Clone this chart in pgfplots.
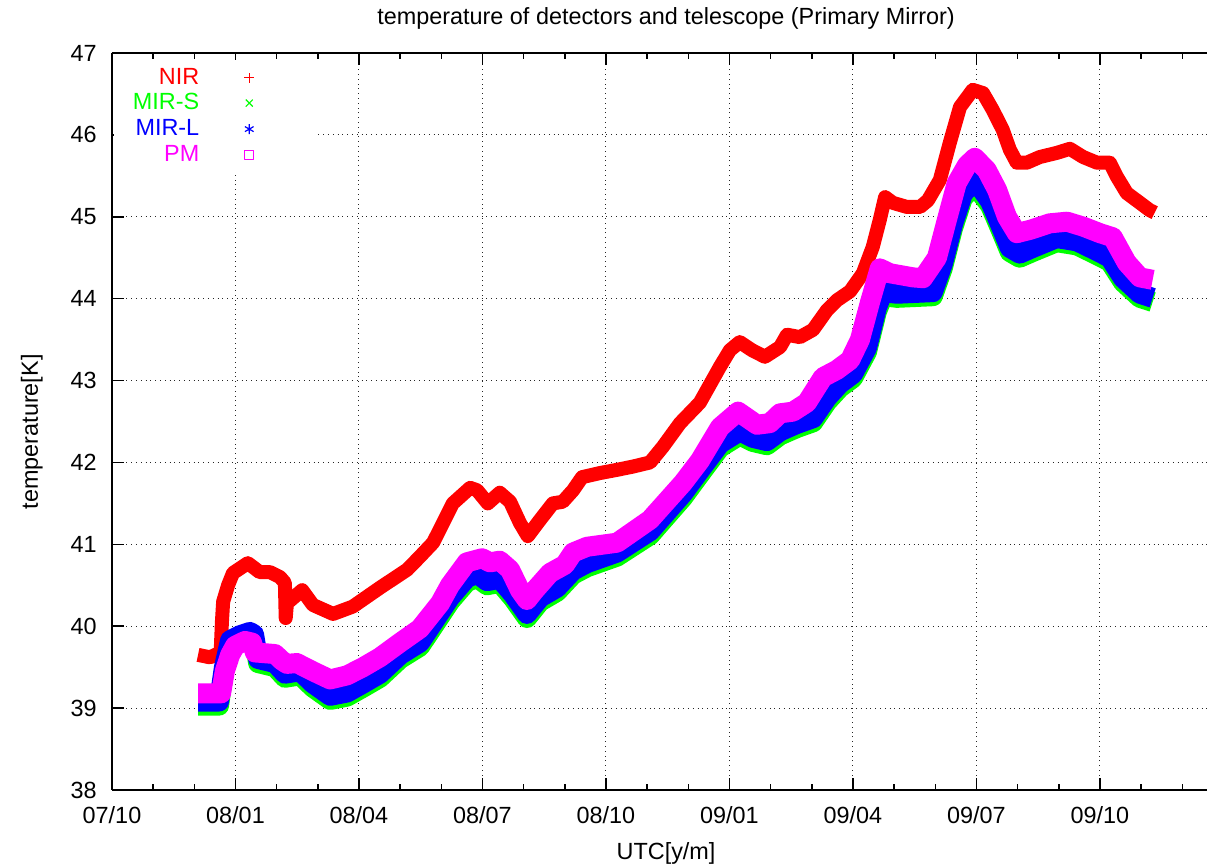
\documentclass[border=0pt]{standalone}
\usepackage{fontspec}
\setmainfont{Liberation Sans}
\usepackage{pgfplots}
\pgfplotsset{compat=1.18}
\usepackage{pgfplotstable}
\definecolor{mag}{rgb}{1,0,1}
\definecolor{grn}{rgb}{0,1,0}
\definecolor{blu}{rgb}{0,0,1}
\definecolor{rd}{rgb}{1,0,0}

\pgfplotstableread{
m T
2.09 39.65
2.38 39.62
2.64 39.68
2.67 40.05
2.70 40.30
2.82 40.50
2.94 40.65
3.30 40.77
3.59 40.66
3.84 40.66
4.08 40.60
4.20 40.53
4.22 40.10
4.25 40.28
4.62 40.44
4.88 40.26
5.37 40.15
5.85 40.24
6.51 40.47
7.17 40.69
7.48 40.85
7.80 41.02
8.04 41.26
8.28 41.50
8.70 41.69
8.87 41.66
9.13 41.50
9.42 41.63
9.67 41.52
9.91 41.26
10.10 41.10
10.40 41.30
10.71 41.50
10.95 41.52
11.20 41.66
11.42 41.82
11.85 41.87
12.27 41.91
12.66 41.95
13.07 42.00
13.38 42.19
13.80 42.48
14.28 42.73
14.77 43.17
15.01 43.37
15.25 43.47
15.55 43.37
15.86 43.29
16.23 43.41
16.40 43.56
16.71 43.53
17.03 43.62
17.37 43.86
17.61 43.98
17.93 44.09
18.24 44.31
18.48 44.63
18.65 44.96
18.78 45.24
18.97 45.17
19.31 45.12
19.63 45.12
19.82 45.20
20.11 45.45
20.35 45.90
20.60 46.34
20.91 46.55
21.16 46.51
21.40 46.30
21.64 46.06
21.81 45.82
21.98 45.66
22.22 45.66
22.54 45.73
22.95 45.78
23.27 45.83
23.59 45.73
23.93 45.66
24.24 45.66
24.41 45.49
24.65 45.29
24.97 45.17
25.21 45.08
25.33 45.05
}\nir

\pgfplotstableread{
m T
2.09 39.03
2.60 39.03
2.72 39.45
2.87 39.78
3.11 39.84
3.35 39.88
3.45 39.85
3.55 39.55
3.96 39.50
4.20 39.37
4.57 39.40
4.88 39.25
5.30 39.10
5.71 39.14
6.10 39.25
6.51 39.37
7.00 39.60
7.48 39.75
7.80 39.99
8.21 40.30
8.62 40.54
8.87 40.59
9.11 40.50
9.42 40.53
9.74 40.34
10.08 40.10
10.40 40.30
10.81 40.42
11.20 40.63
11.54 40.72
12.27 40.85
13.07 41.11
13.87 41.57
14.28 41.85
14.77 42.18
15.25 42.33
15.57 42.25
15.91 42.21
16.23 42.33
16.64 42.42
17.03 42.49
17.37 42.74
17.68 42.91
18.00 43.03
18.34 43.35
18.58 43.84
18.73 44.03
19.07 44.01
19.94 44.03
20.18 44.37
20.43 44.86
20.67 45.23
20.96 45.38
21.33 45.14
21.57 44.86
21.81 44.57
22.05 44.50
22.37 44.57
22.95 44.69
23.44 44.65
23.93 44.53
24.24 44.45
24.56 44.20
24.97 44.01
25.28 43.96
}\mirs

\pgfplotstableread{
m T
2.09 39.08
2.60 39.08
2.72 39.50
2.87 39.83
3.11 39.89
3.35 39.93
3.45 39.90
3.55 39.60
3.96 39.55
4.20 39.42
4.57 39.45
4.88 39.30
5.30 39.15
5.71 39.19
6.10 39.30
6.51 39.42
7.00 39.65
7.48 39.80
7.80 40.04
8.21 40.35
8.62 40.59
8.87 40.64
9.11 40.55
9.42 40.58
9.74 40.39
10.08 40.15
10.40 40.35
10.81 40.47
11.20 40.68
11.54 40.77
12.27 40.90
13.07 41.16
13.87 41.62
14.28 41.90
14.77 42.23
15.25 42.38
15.57 42.30
15.91 42.26
16.23 42.38
16.64 42.47
17.03 42.54
17.37 42.79
17.68 42.96
18.00 43.08
18.34 43.40
18.58 43.89
18.73 44.08
19.07 44.06
19.94 44.08
20.18 44.42
20.43 44.91
20.67 45.28
20.96 45.45
21.33 45.19
21.57 44.91
21.81 44.62
22.05 44.55
22.37 44.62
22.95 44.74
23.44 44.70
23.93 44.58
24.24 44.50
24.56 44.25
24.97 44.06
25.28 44.01
}\mirl

\pgfplotstableread{
m T
2.09 39.18
2.65 39.18
2.74 39.45
2.87 39.65
2.99 39.76
3.23 39.82
3.40 39.80
3.47 39.68
3.96 39.66
4.13 39.58
4.25 39.54
4.49 39.55
4.88 39.45
5.30 39.35
5.71 39.40
6.10 39.50
6.51 39.62
7.00 39.80
7.48 39.97
7.97 40.28
8.21 40.50
8.62 40.78
8.99 40.83
9.18 40.78
9.42 40.80
9.67 40.69
9.91 40.44
10.08 40.32
10.27 40.44
10.64 40.65
11.00 40.75
11.20 40.90
11.54 40.97
12.27 41.02
13.07 41.30
13.87 41.75
14.28 42.02
14.77 42.43
15.21 42.62
15.67 42.46
15.98 42.48
16.23 42.60
16.54 42.62
16.88 42.73
17.27 43.04
17.61 43.13
17.93 43.25
18.17 43.50
18.41 43.95
18.65 44.37
18.90 44.31
19.46 44.26
19.70 44.25
20.04 44.50
20.28 44.96
20.52 45.41
20.77 45.63
20.96 45.72
21.25 45.57
21.50 45.33
21.74 45.00
21.98 44.80
22.30 44.84
22.78 44.92
23.20 44.94
23.59 44.88
24.00 44.80
24.31 44.75
24.65 44.44
24.97 44.26
25.28 44.23
}\pm

\begin{document}
\begin{tikzpicture}[font=\fontsize{11.7}{14}\selectfont]
\begin{axis}[
  scale only axis, width=547.5pt, height=368.5pt,
  xmin=0, xmax=26.6, ymin=38, ymax=47,
  axis x line=box, axis y line=left, y axis line style={-},
  axis line style={line width=0.8pt},
  tick align=inside, ytick pos=left,
  major tick length=6pt, minor tick length=3pt,
  every tick/.style={black, line width=0.8pt},
  xtick={0,3,6,9,12,15,18,21,24},
  xticklabels={07/10,08/01,08/04,08/07,08/10,09/01,09/04,09/07,09/10},
  minor xtick={1,2,4,5,7,8,10,11,13,14,16,17,19,20,22,23,25,26},
  ytick={38,39,...,47},
  /pgf/number format/assume math mode=true,
  xticklabel style={anchor=base, inner sep=0pt, yshift=-17pt},
  yticklabel style={anchor=east, inner sep=0pt, xshift=-7.5pt},
  grid=major,
  grid style={dotted, black!85, line width=0.5pt},
  title={temperature of detectors and telescope (Primary Mirror)},
  title style={at={([yshift=8pt]axis description cs:0.506,1)}, anchor=base, inner sep=0pt},
  xlabel={UTC[y/m]},
  xlabel style={at={([yshift=-35pt]axis description cs:0.506,0)}, anchor=base, inner sep=0pt},
  ylabel={temperature[K]},
  ylabel style={at={([xshift=-37pt]axis description cs:0,0.486)}, anchor=base, inner sep=0pt},
  legend style={draw=none, fill=white, at={(0.0018,0.9905)}, anchor=north west,
    inner xsep=9.5pt, inner ysep=4pt, outer sep=0pt, row sep=3pt, column sep=0pt,
    nodes={inner sep=0pt}},
  legend cell align=right,
  legend plot pos=right,
  line join=round,
]
\addplot[color=rd, line width=7pt,
  legend image code/.code={\path (0pt,0pt) (39pt,0pt); \draw[color=red, line width=0.75pt] (17.5pt,0pt) -- (22.5pt,0pt) (20pt,-2.5pt) -- (20pt,2.5pt);}]
  table[x=m, y=T] {\nir};
\addlegendentry{\textcolor{rd}{NIR}}
\addplot[color=grn, line width=10pt,
  legend image code/.code={\path (0pt,0pt) (39pt,0pt); \draw[draw=grn, line width=0.6pt, mark=x, mark size=2.5pt, mark options={draw=grn, solid}] plot coordinates {(20pt,0pt)};}]
  table[x=m, y=T] {\mirs};
\addlegendentry{\textcolor{grn}{MIR-S}}
\addplot[color=blu, line width=10pt,
  legend image code/.code={\path (0pt,0pt) (39pt,0pt); \draw[draw=blu, line width=0.6pt, mark=asterisk, mark size=2.5pt, mark options={draw=blu, solid}] plot coordinates {(20pt,0pt)};}]
  table[x=m, y=T] {\mirl};
\addlegendentry{\textcolor{blu}{MIR-L}}
\addplot[color=mag, line width=10pt,
  legend image code/.code={\path (0pt,0pt) (39pt,0pt); \draw[draw=mag, line width=0.6pt, mark=square, mark size=2.2pt, mark options={draw=mag, solid}] plot coordinates {(20pt,0pt)};}]
  table[x=m, y=T] {\pm};
\addlegendentry{\textcolor{mag}{PM}}
\end{axis}
\pgfresetboundingbox
\path[use as bounding box] ([shift={(-56pt,-38pt)}]current axis.south west) rectangle ([shift={(0pt,26.5pt)}]current axis.north east);
\end{tikzpicture}
\end{document}
